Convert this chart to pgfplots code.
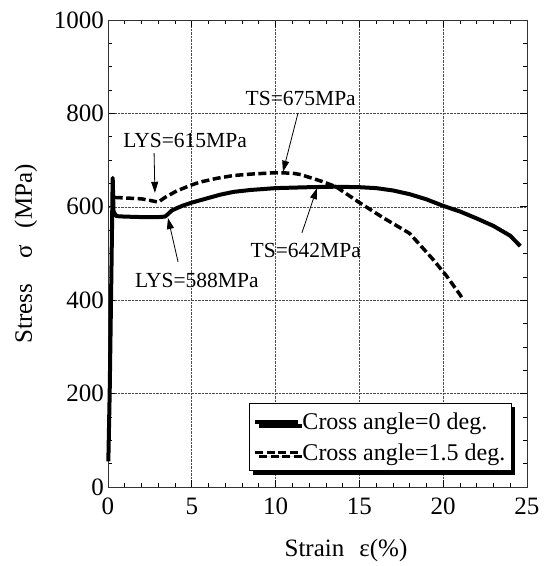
\documentclass[border=0pt]{standalone}
\usepackage{pgfplots}
\pgfplotsset{compat=1.18}
\usepackage{fontspec}
\setmainfont{Liberation Serif}
\usetikzlibrary{arrows.meta,shadows}
\begin{document}
\begin{tikzpicture}
\begin{axis}[
  scale only axis, width=419pt, height=467pt, at={(0,0)}, anchor=south west,
  xmin=0, xmax=25, ymin=0, ymax=1000,
  xtick={0,5,...,25}, ytick={0,200,...,1000},
  minor x tick num=4, minor y tick num=3,
  tick align=inside, tick pos=both,
  major tick length=7pt, minor tick length=4pt,
  grid=major, major grid style={densely dotted, black!70, line width=0.6pt},
  axis line style={black!80, line width=0.9pt},
  every tick/.style={black, line width=0.7pt},
  tick label style={font=\fontsize{25}{25}\selectfont, inner sep=2pt},
  xticklabel style={yshift=-9pt},
  yticklabel style={xshift=-2pt},
  /pgf/number format/assume math mode=true,
  /pgf/number format/1000 sep={},
  xlabel={Strain\hspace{15pt}ε(\%)},
  ylabel={Stress\hspace{25pt}σ\hspace{17pt}(MPa)},
  every axis x label/.style={at={(axis description cs:0.568,-0.135)}, anchor=center, font=\fontsize{25}{25}\selectfont},
  every axis y label/.style={at={(axis description cs:-0.196,0.499)}, rotate=90, anchor=center, font=\fontsize{25}{25}\selectfont},
  clip=false,
  legend style={at={(axis description cs:0.3365,0.18)}, anchor=north west,
    draw=black, line width=1pt, fill=white,
    font=\fontsize{24}{28}\selectfont, inner xsep=4pt, inner ysep=7pt, row sep=9pt,
    drop shadow={shadow xshift=4pt, shadow yshift=-4pt, fill=black, opacity=1}},
  legend cell align=left,
  legend image code/.code={\draw[#1] (0pt,0pt) -- (43pt,0pt);},
]
\addplot[black, line width=4pt, line join=round] coordinates {
(0.02,55) (0.1,200) (0.2,450) (0.28,662) (0.33,590) (0.5,580) (1,579) (2,578) (3,578)
(3.4,579) (3.6,585) (3.8,592) (4.1,597) (4.5,603) (5,609) (5.5,614) (6,619) (6.7,626)
(7.5,632) (8.5,636) (10,640) (11,641) (12,642) (13.5,643) (15,642) (16,640) (17,635)
(18,627) (19,616) (20,602) (21,590) (22,575) (23,559) (24,538) (24.6,516)
};
\addlegendentry{Cross angle=0 deg.}
\addplot[black, line width=3.5pt, dash pattern=on 8pt off 3.5pt] coordinates {
(0.4,620) (1,619) (2,617) (2.6,613) (3.0,610) (3.4,620) (4.1,634) (5,647) (5.5,653)
(6.5,661) (7.5,667) (8.5,670) (10,673) (11,672) (11.5,669) (12.8,654) (13.6,643)
(15,609) (16.4,577) (18,543) (19.4,487) (20.2,452) (21,412) (21.2,400)
};
\addlegendentry{Cross angle=1.5 deg.}
\node[font=\fontsize{21.5}{24}\selectfont] at (axis cs:4.6,743) {LYS=615MPa};
\draw[-{Triangle[length=11pt,width=7pt]}, line width=0.8pt] (axis cs:2.75,715) -- (axis cs:2.8,630);
\node[font=\fontsize{21.5}{24}\selectfont] at (axis cs:11.5,833) {TS=675MPa};
\draw[-{Triangle[length=11pt,width=7pt]}, line width=0.8pt] (axis cs:11.34,801) -- (axis cs:10.44,675);
\node[font=\fontsize{21.5}{24}\selectfont] at (axis cs:11.8,507) {TS=642MPa};
\draw[-{Triangle[length=11pt,width=7pt]}, line width=0.8pt] (axis cs:11.57,544) -- (axis cs:12.47,640);
\node[font=\fontsize{21.5}{24}\selectfont] at (axis cs:5.3,443) {LYS=588MPa};
\draw[-{Triangle[length=11pt,width=7pt]}, line width=0.8pt] (axis cs:4.18,482) -- (axis cs:3.58,576);
\end{axis}
\pgfresetboundingbox
\path (-108pt,-79pt) rectangle (437pt,487pt);
\end{tikzpicture}
\end{document}
